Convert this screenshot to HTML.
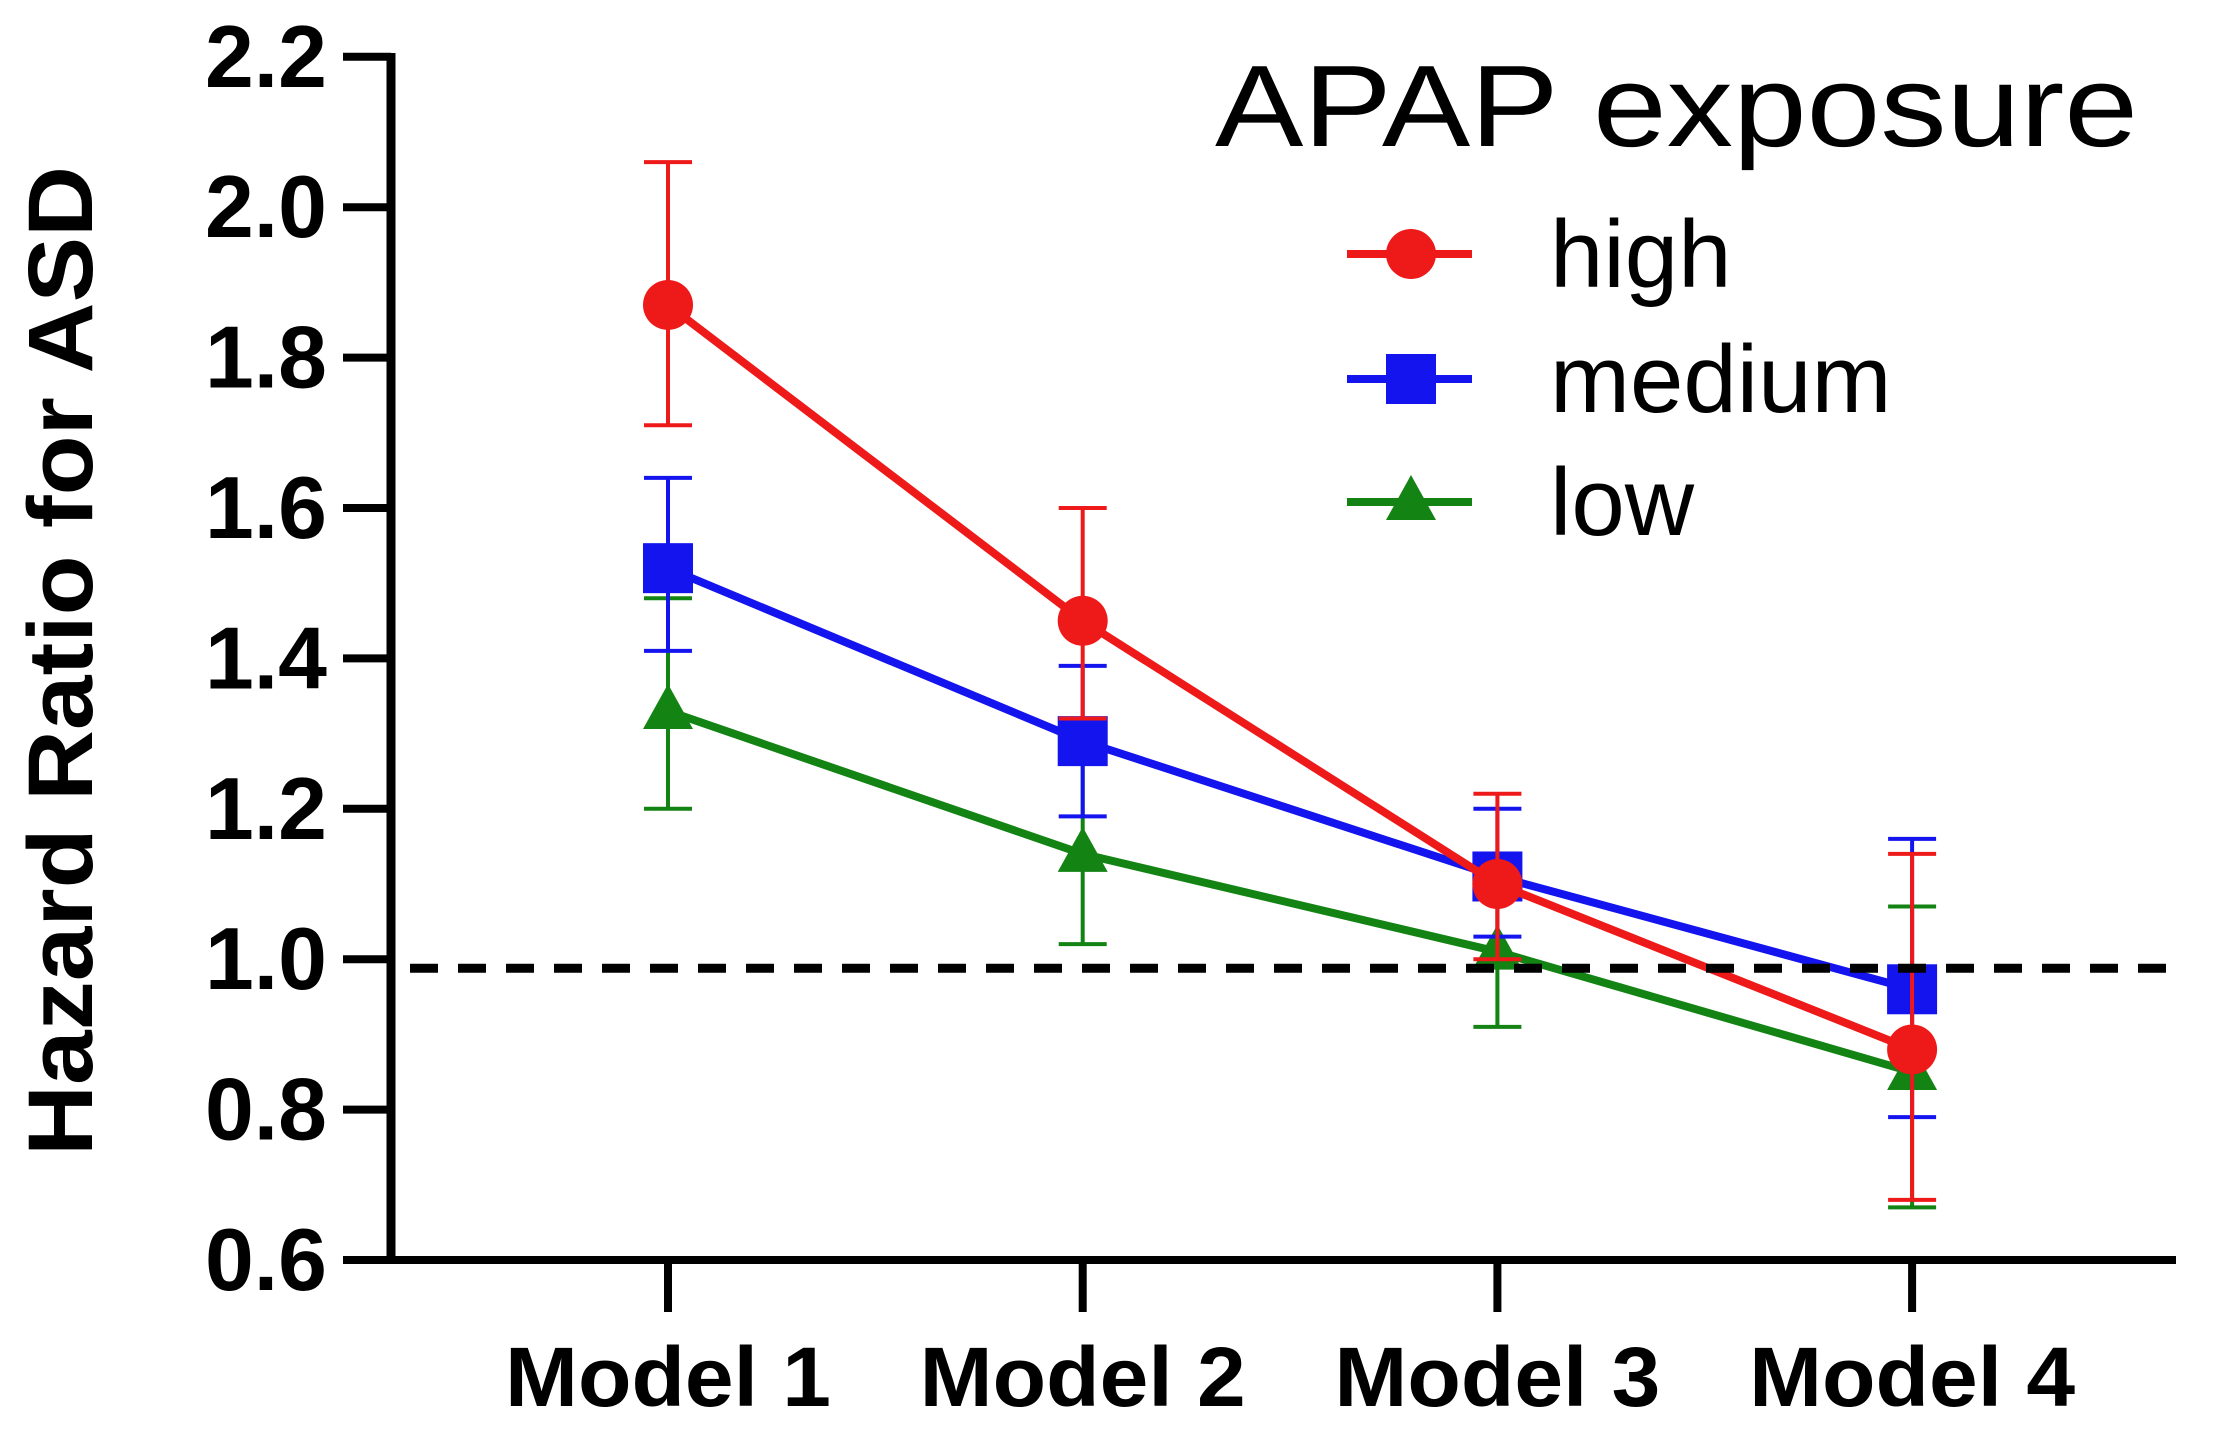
<!DOCTYPE html>
<html><head><meta charset="utf-8"><style>html,body{margin:0;padding:0;background:#fff}svg{display:block}</style></head>
<body>
<svg id="chart" width="2220" height="1451" viewBox="0 0 2220 1451" xmlns="http://www.w3.org/2000/svg" font-family="'Liberation Sans', Arial, sans-serif">
<g id="series-layer"></g>
<g id="axes-layer"></g>
<g id="legend">
  <text x="1215" y="146" font-size="116" textLength="923" lengthAdjust="spacingAndGlyphs">APAP exposure</text>
</g>
</svg>
<script>
const categories = ["Model 1", "Model 2", "Model 3", "Model 4"];
const yTicks = [0.6, 0.8, 1.0, 1.2, 1.4, 1.6, 1.8, 2.0, 2.2];
const yTickLabels = ["0.6", "0.8", "1.0", "1.2", "1.4", "1.6", "1.8", "2.0", "2.2"];
const seriesNames = ["high", "medium", "low"];
const highValues = [1.87, 1.45, 1.10, 0.88];
const highLower = [1.71, 1.32, 1.00, 0.68];
const highUpper = [2.06, 1.60, 1.22, 1.14];
const mediumValues = [1.52, 1.29, 1.11, 0.96];
const mediumLower = [1.41, 1.19, 1.03, 0.79];
const mediumUpper = [1.64, 1.39, 1.20, 1.16];
const lowValues = [1.33, 1.14, 1.01, 0.85];
const lowLower = [1.20, 1.02, 0.91, 0.67];
const lowUpper = [1.48, 1.31, 1.08, 1.07];
const referenceValue = 0.988;

const NS = "http://www.w3.org/2000/svg";
const x0 = 668, xStep = 414.7;
function xScale(i){ return x0 + i * xStep; }
function yScale(v){ return 1260 - (v - 0.6) / 0.2 * 150.4; }
function mk(tag, attrs, parent){
  const e = document.createElementNS(NS, tag);
  for (const k in attrs) e.setAttribute(k, attrs[k]);
  parent.appendChild(e);
  return e;
}
const axes = document.getElementById('axes-layer');
const seriesLayer = document.getElementById('series-layer');
const legend = document.getElementById('legend');

let yAxis = mk('line', {x1:391, y1:53, x2:391, y2:1264, stroke:'#000', 'stroke-width':9}, axes);


let xAxis = mk('line', {x1:387, y1:1260, x2:2176, y2:1260, stroke:'#000', 'stroke-width':8}, axes);


yTicks.forEach((v, i) => {
  const y = yScale(v);
  const t = mk('line', {x1:343, y1:y, x2:391, y2:y, stroke:'#000', 'stroke-width':8}, axes);
  
  
  const l = mk('text', {x:327, y:y+30, 'text-anchor':'end', 'font-size':88, 'font-weight':'bold', textLength:122, lengthAdjust:'spacingAndGlyphs'}, axes);
  l.textContent = yTickLabels[i];
  
  
});
categories.forEach((c, i) => {
  const x = xScale(i);
  const t = mk('line', {x1:x, y1:1260, x2:x, y2:1312, stroke:'#000', 'stroke-width':8}, axes);
  
  
  const l = mk('text', {x:x, y:1406, 'text-anchor':'middle', 'font-size':84, 'font-weight':'bold', textLength:326, lengthAdjust:'spacingAndGlyphs'}, axes);
  l.textContent = c;
  
  
});
const yt = mk('text', {x:0, y:0, transform:'translate(92,661) rotate(-90)', 'text-anchor':'middle', 'font-size':92, 'font-weight':'bold', textLength:990, lengthAdjust:'spacingAndGlyphs'}, axes);
yt.textContent = 'Hazard Ratio for ASD';



function marker(shape, cx, cy, color, parent){
  let m;
  if (shape === 'circle') m = mk('circle', {cx:cx, cy:cy, r:25, fill:color}, parent);
  else if (shape === 'square') m = mk('rect', {x:cx-25, y:cy-25, width:50, height:50, fill:color}, parent);
  else m = mk('polygon', {points:`${cx},${cy-27} ${cx+25},${cy+18} ${cx-25},${cy+18}`, fill:color}, parent);
  return m;
}

const series = [
  {name:'low', vals:lowValues, lo:lowLower, hi:lowUpper, color:'#138313', shape:'triangle'},
  {name:'medium', vals:mediumValues, lo:mediumLower, hi:mediumUpper, color:'#1414ee', shape:'square'},
  {name:'high', vals:highValues, lo:highLower, hi:highUpper, color:'#ee1a1a', shape:'circle'}
];
series.forEach(s => {
  const g = mk('g', {}, seriesLayer);
  
  
  s.vals.forEach((v, i) => {
    const x = xScale(i);
    const eb = mk('g', {stroke:s.color, 'stroke-width':4}, g);
    
    
    mk('line', {x1:x, y1:yScale(s.lo[i]), x2:x, y2:yScale(s.hi[i])}, eb);
    mk('line', {x1:x-24, y1:yScale(s.lo[i]), x2:x+24, y2:yScale(s.lo[i])}, eb);
    mk('line', {x1:x-24, y1:yScale(s.hi[i]), x2:x+24, y2:yScale(s.hi[i])}, eb);
  });
  const pts = s.vals.map((v, i) => xScale(i) + ',' + yScale(v)).join(' ');
  const pl = mk('polyline', {points:pts, fill:'none', stroke:s.color, 'stroke-width':8}, g);
  
  
  s.vals.forEach((v, i) => {
    const m = marker(s.shape, xScale(i), yScale(v), s.color, g);
    
    
  });
});
const ref = mk('line', {x1:410, y1:yScale(referenceValue), x2:2178, y2:yScale(referenceValue), stroke:'#000', 'stroke-width':9, 'stroke-dasharray':'28 20'}, seriesLayer);



const legendY = [254, 379, 502];
const legendSeries = [series[2], series[1], series[0]];
legendSeries.forEach((s, i) => {
  const g = mk('g', {}, legend);
  
  
  mk('line', {x1:1347, y1:legendY[i], x2:1472, y2:legendY[i], stroke:s.color, 'stroke-width':8}, g);
  marker(s.shape, 1411, legendY[i], s.color, g);
  const t = mk('text', {x:1550, y:legendY[i]+33, 'font-size':96}, g);
  t.textContent = seriesNames[i];
});
</script>
</body></html>
